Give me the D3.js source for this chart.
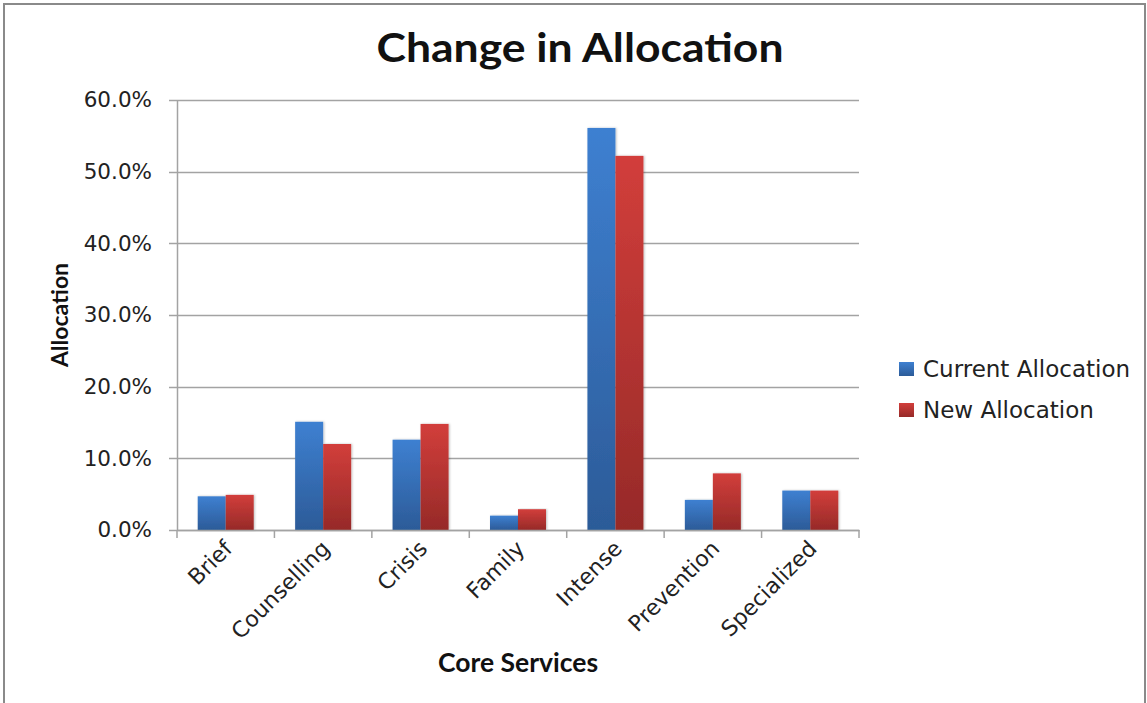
<!DOCTYPE html>
<html>
<head>
<meta charset="utf-8">
<script src="https://cdn.jsdelivr.net/npm/d3@7"></script>
<style>
  body { margin: 0; background: #fff; }
  svg { display: block; }
</style>
</head>
<body>
<svg id="chart"></svg>
<script>
var width = 1147;
var height = 703;

// data
var categories = ["Brief", "Counselling", "Crisis", "Family", "Intense", "Prevention", "Specialized"];
var seriesNames = ["Current Allocation", "New Allocation"];
var currentAlloc = [0.047, 0.151, 0.126, 0.020, 0.561, 0.042, 0.055];
var newAlloc = [0.049, 0.120, 0.148, 0.029, 0.522, 0.079, 0.055];
var yTicks = [0, 0.1, 0.2, 0.3, 0.4, 0.5, 0.6];

// plot area
var plotLeft = 177, plotRight = 859, plotTop = 100, plotBottom = 530;

var svg = d3.select("#chart")
    .attr("width", width)
    .attr("height", height);

// gradients for bars
var defs = svg.append("defs");
var grads = [["gBlue", "#3e80d1", "#2c5b98"], ["gRed", "#d23e3b", "#962a28"]];
grads.forEach(function(g) {
  var lg = defs.append("linearGradient")
      .attr("id", g[0])
      .attr("x1", 0).attr("y1", 0).attr("x2", 0).attr("y2", 1);
  lg.append("stop").attr("offset", "0%").attr("stop-color", g[1]);
  lg.append("stop").attr("offset", "100%").attr("stop-color", g[2]);
});
var filter = defs.append("filter").attr("id", "shadow")
    .attr("x", "-20%").attr("y", "-5%").attr("width", "140%").attr("height", "110%");
filter.append("feDropShadow")
    .attr("dx", 1).attr("dy", 0).attr("stdDeviation", 1.2)
    .attr("flood-color", "#000").attr("flood-opacity", 0.25);

// outer frame
svg.append("path")
    .attr("d", "M4,706 L4,4 L1145,4 L1145,706")
    .attr("fill", "none")
    .attr("stroke", "#8a8a8a")
    .attr("stroke-width", 2);

var xScale = d3.scaleBand()
    .domain(categories)
    .range([plotLeft, plotRight])
    .padding(0);

var xSub = d3.scaleBand()
    .domain(seriesNames)
    .range([0, 56]);

var yScale = d3.scaleLinear()
    .domain([0, 0.6])
    .range([plotBottom, plotTop]);

// gridlines
svg.append("g")
  .selectAll("line")
  .data(yTicks)
  .enter()
  .append("line")
    .attr("x1", plotLeft - 8)
    .attr("x2", plotRight)
    .attr("y1", function(d) { return Math.round(yScale(d)) + 0.5; })
    .attr("y2", function(d) { return Math.round(yScale(d)) + 0.5; })
    .attr("stroke", "#a3a3a3")
    .attr("stroke-width", 1.5);

// Y axis
var yAxis = d3.axisLeft(yScale)
    .tickValues(yTicks)
    .tickSize(0)
    .tickPadding(25)
    .tickFormat(d3.format(".1%"));

var gy = svg.append("g")
    .attr("transform", "translate(" + plotLeft + ",0)")
    .call(yAxis);
gy.select(".domain").attr("stroke", "#a3a3a3").attr("stroke-width", 1.5);
gy.selectAll("text")
    .attr("font-family", "DejaVu Sans, sans-serif")
    .attr("font-size", "21.5px")
    .attr("fill", "#222");

// bars
var rows = categories.map(function(c, i) {
  return { cat: c, values: [currentAlloc[i], newAlloc[i]] };
});

var groups = svg.append("g")
  .selectAll("g")
  .data(rows)
  .enter()
  .append("g")
    .attr("transform", function(d) {
      return "translate(" + (xScale(d.cat) + xScale.bandwidth() / 2 - 28) + ",0)";
    });

groups.selectAll("rect")
  .data(function(d) {
    return d.values.map(function(v, j) { return { s: seriesNames[j], v: v, j: j }; });
  })
  .enter()
  .append("rect")
    .attr("x", function(d) { return xSub(d.s); })
    .attr("width", xSub.bandwidth())
    .attr("y", function(d) { return yScale(d.v); })
    .attr("height", function(d) { return plotBottom - yScale(d.v); })
    .attr("fill", function(d) { return d.j == 0 ? "url(#gBlue)" : "url(#gRed)"; })
    .attr("filter", "url(#shadow)");

// X axis
var xAxis = d3.axisBottom(xScale)
    .tickSize(0)
    .tickPadding(12);

var gx = svg.append("g")
    .attr("transform", "translate(0," + plotBottom + ")")
    .call(xAxis);
gx.select(".domain").attr("stroke", "#a3a3a3").attr("stroke-width", 1.5);
gx.selectAll("text")
    .attr("font-family", "DejaVu Sans, sans-serif")
    .attr("font-size", "22px")
    .attr("fill", "#222")
    .attr("text-anchor", "end")
    .attr("dy", "0.35em")
    .attr("transform", "translate(-6,6) rotate(-45)");

// category boundary ticks
var bounds = categories.map(function(c) { return xScale(c); }).concat([plotRight]);
svg.append("g")
  .selectAll("line")
  .data(bounds)
  .enter()
  .append("line")
    .attr("x1", function(d) { return d; })
    .attr("x2", function(d) { return d; })
    .attr("y1", plotBottom)
    .attr("y2", plotBottom + 8)
    .attr("stroke", "#a3a3a3")
    .attr("stroke-width", 1.5);

// title
svg.append("text")
    .attr("x", 580)
    .attr("y", 62)
    .attr("text-anchor", "middle")
    .attr("font-family", "Lato, sans-serif")
    .attr("font-weight", "bold")
    .attr("font-size", "41px")
    .attr("textLength", 407)
    .attr("lengthAdjust", "spacingAndGlyphs")
    .attr("fill", "#111")
    .text("Change in Allocation");

// axis titles
svg.append("text")
    .attr("transform", "translate(68,315) rotate(-90)")
    .attr("text-anchor", "middle")
    .attr("font-family", "Lato, sans-serif")
    .attr("font-weight", "bold")
    .attr("font-size", "23px")
    .attr("fill", "#111")
    .text("Allocation");

svg.append("text")
    .attr("x", 518)
    .attr("y", 672)
    .attr("text-anchor", "middle")
    .attr("font-family", "Lato, sans-serif")
    .attr("font-weight", "bold")
    .attr("font-size", "26.5px")
    .attr("fill", "#111")
    .text("Core Services");

// legend
var legend = svg.append("g")
  .selectAll("g")
  .data(seriesNames)
  .enter()
  .append("g")
    .attr("transform", function(d, i) { return "translate(899," + (362 + i * 41) + ")"; });

legend.append("rect")
    .attr("width", 15)
    .attr("height", 14)
    .attr("fill", function(d, i) { return i == 0 ? "url(#gBlue)" : "url(#gRed)"; });

legend.append("text")
    .attr("x", 24)
    .attr("y", 15)
    .attr("font-family", "DejaVu Sans, sans-serif")
    .attr("font-size", "23px")
    .attr("fill", "#222")
    .text(function(d) { return d; });
</script>
</body>
</html>
